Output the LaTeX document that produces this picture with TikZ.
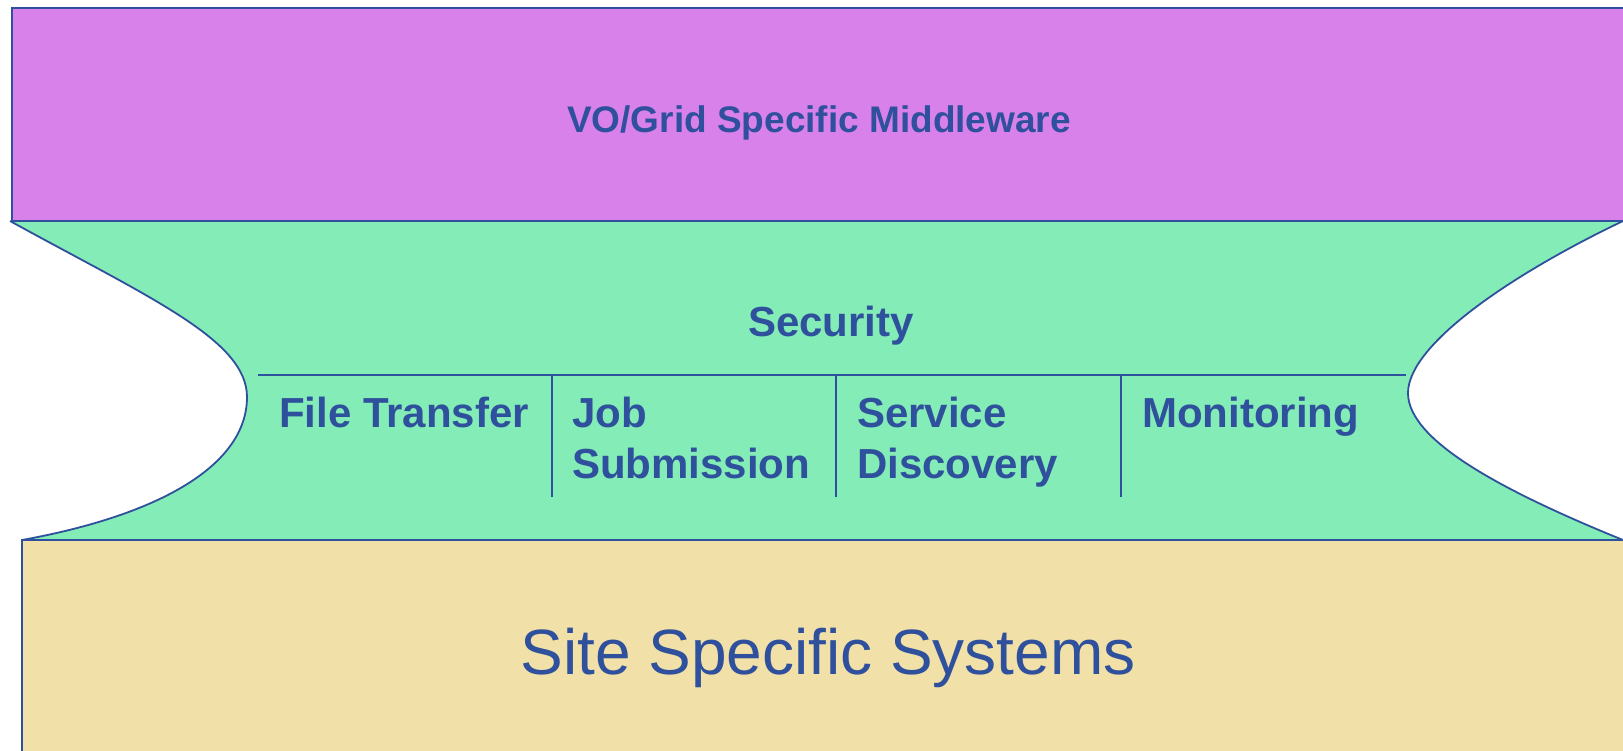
\documentclass[tikz,border=0pt]{standalone}
\usepackage{fontspec}
\setmainfont{Liberation Sans}

\definecolor{mwpurple}{HTML}{D881EA}
\definecolor{secgreen}{HTML}{84ECB6}
\definecolor{sitetan}{HTML}{F1E1A8}
\definecolor{inkblue}{HTML}{2F509C}

\begin{document}
\begin{tikzpicture}[x=1pt, y=-1pt,
    layerbox/.style={draw=inkblue, line width=2.2pt},
    edge/.style={draw=inkblue, line width=1.8pt},
    boxtext/.style={text=inkblue, inner sep=0pt, align=left,
        font=\fontsize{42}{51}\selectfont\bfseries}]
    \useasboundingbox (0,0) rectangle (1623,750);

    % the waist
    \coordinate (ltop) at (10,221);
    \coordinate (lmid) at (247,397);
    \coordinate (lbot) at (22,540);
    \coordinate (rtop) at (1623,221);
    \coordinate (rmid) at (1408,393);
    \coordinate (rbot) at (1623,540);
    \fill[secgreen] (ltop) -- (rtop) .. controls (1510,275) and (1408,345) .. (rmid)
        .. controls (1408,440) and (1500,490) .. (rbot) -- (lbot)
        .. controls (160,515) and (247,465) .. (lmid)
        .. controls (247,340) and (150,298) .. (ltop) -- cycle;
    \draw[edge] (ltop) .. controls (150,298) and (247,340) .. (lmid)
        .. controls (247,465) and (160,515) .. (lbot);
    \draw[edge] (rtop) .. controls (1510,275) and (1408,345) .. (rmid)
        .. controls (1408,440) and (1500,490) .. (rbot);

    % layers
    \draw[layerbox, fill=mwpurple] (12,8) rectangle (1640,221);
    \draw[layerbox, fill=sitetan] (22,540) rectangle (1640,760);

    % services
    \draw[edge] (258,375) -- (1406,375);
    \foreach \x in {552,836,1121}
        \draw[edge] (\x,375) -- (\x,497);

    \node[boxtext, anchor=base, font=\fontsize{37}{45}\selectfont\bfseries]
        (middleware) at (819,132) {VO/Grid Specific Middleware};
    \node[boxtext, anchor=base] (security) at (831,336) {Security};
    \node[boxtext, anchor=base west] (transfer) at (279,427) {File Transfer};
    \node[boxtext, anchor=base west] (jobs) at (572,478) {Job\\Submission};
    \node[boxtext, anchor=base west] (discovery) at (857,478) {Service\\Discovery};
    \node[boxtext, anchor=base west] (monitoring) at (1142,427) {Monitoring};
    \node[boxtext, anchor=base, font=\fontsize{64}{70}\selectfont]
        (site) at (828,674) {Site Specific Systems};
\end{tikzpicture}
\end{document}
